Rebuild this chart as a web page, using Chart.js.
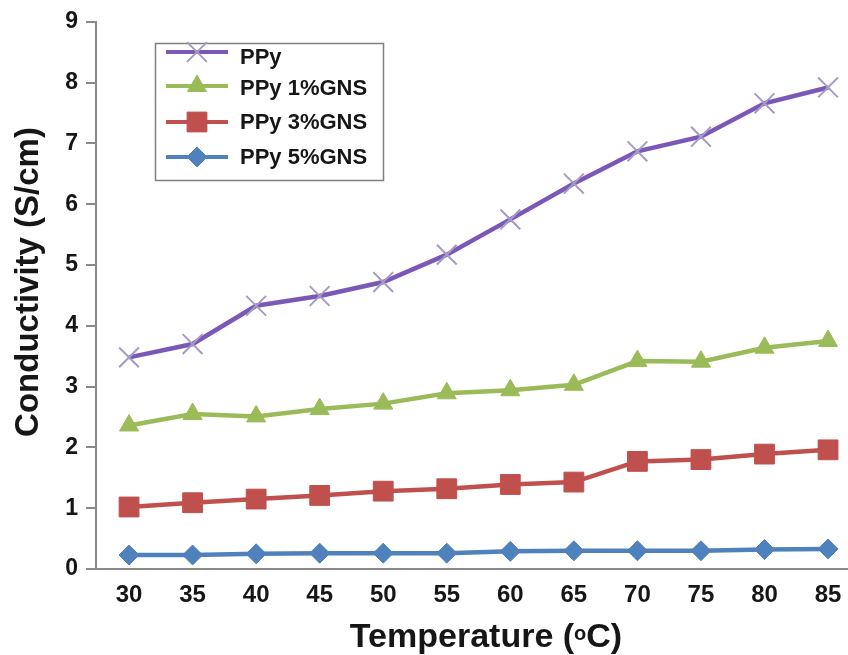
<!DOCTYPE html>
<html>
<head>
<meta charset="utf-8">
<title>Conductivity vs Temperature</title>
<script src="https://cdn.jsdelivr.net/npm/chart.js@4.4.1/dist/chart.umd.min.js"></script>
<style>
  html, body { margin: 0; padding: 0; background: #fff; }
  #wrap { width: 848px; height: 655px; }
</style>
</head>
<body>
<div id="wrap"><canvas id="condChart" width="848" height="655"></canvas></div>
<script>
'use strict';

// ── Data ──────────────────────────────────────────────────────
const temperatures = [30, 35, 40, 45, 50, 55, 60, 65, 70, 75, 80, 85];
const yTicks       = [0, 1, 2, 3, 4, 5, 6, 7, 8, 9];

const ppy      = [3.48, 3.70, 4.33, 4.49, 4.72, 5.17, 5.75, 6.34, 6.87, 7.11, 7.66, 7.92];
const ppy1GNS  = [2.36, 2.55, 2.51, 2.63, 2.72, 2.89, 2.94, 3.03, 3.42, 3.41, 3.64, 3.75];
const ppy3GNS  = [1.02, 1.09, 1.15, 1.21, 1.28, 1.32, 1.39, 1.43, 1.77, 1.80, 1.89, 1.96];
const ppy5GNS  = [0.23, 0.23, 0.25, 0.26, 0.26, 0.26, 0.29, 0.30, 0.30, 0.30, 0.32, 0.33];

const seriesNames = ['PPy', 'PPy 1%GNS', 'PPy 3%GNS', 'PPy 5%GNS'];

// ── Helpers ───────────────────────────────────────────────────
const FONT = "'Liberation Sans', Arial, sans-serif";
const AXIS_GREY = '#8a8a8a';
const INK = '#161616';

function toPoints(values) {
  return values.map((v, i) => ({ x: temperatures[i], y: v }));
}

function lineSet(label, values, color, style, radius, markColor, markWidth) {
  return {
    label,
    data: toPoints(values),
    borderColor: color,
    backgroundColor: color,
    borderWidth: 4.5,
    tension: 0,
    pointStyle: style,
    pointRadius: radius,
    pointHoverRadius: radius,
    pointBackgroundColor: markColor || color,
    pointBorderColor: markColor || color,
    pointBorderWidth: markWidth || 1,
  };
}

// ── Legend + axis titles drawn on the canvas ──────────────────
const annotations = {
  id: 'annotations',
  afterDraw(chart) {
    const ctx = chart.ctx;
    ctx.save();

    // legend box
    ctx.strokeStyle = '#808080';
    ctx.lineWidth = 1.5;
    ctx.strokeRect(155.5, 43.5, 228, 137);

    const lineY = [52, 86, 122, 157];
    const textY = [58, 89, 123, 158];
    chart.data.datasets.forEach((ds, i) => {
      const y = lineY[i];
      ctx.strokeStyle = ds.borderColor;
      ctx.lineWidth = 4;
      ctx.beginPath();
      ctx.moveTo(166, y);
      ctx.lineTo(228, y);
      ctx.stroke();

      ctx.fillStyle = ds.pointBackgroundColor;
      ctx.strokeStyle = ds.pointBorderColor;
      ctx.lineWidth = ds.pointBorderWidth;
      Chart.helpers.drawPoint(ctx, {
        pointStyle: ds.pointStyle,
        radius: ds.pointRadius,
        rotation: 0,
        borderWidth: ds.pointBorderWidth,
      }, 197, y);

      ctx.fillStyle = INK;
      ctx.font = 'bold 22px ' + FONT;
      ctx.textAlign = 'left';
      ctx.textBaseline = 'middle';
      ctx.fillText(seriesNames[i], 240, textY[i]);
    });

    // y-axis title
    ctx.save();
    ctx.translate(29, 282);
    ctx.rotate(-Math.PI / 2);
    ctx.font = 'bold 33px ' + FONT;
    ctx.textAlign = 'center';
    ctx.textBaseline = 'middle';
    ctx.fillStyle = INK;
    ctx.fillText('Conductivity (S/cm)', 0, 0);
    ctx.restore();

    // x-axis title with raised "o"
    const big = 'bold 34px ' + FONT;
    const small = 'bold 20px ' + FONT;
    const partA = 'Temperature (', partB = 'o', partC = 'C)';
    ctx.font = big;
    const wA = ctx.measureText(partA).width;
    const wC = ctx.measureText(partC).width;
    ctx.font = small;
    const wB = ctx.measureText(partB).width;
    let x = 486 - (wA + wB + wC) / 2;
    const base = 647;
    ctx.textAlign = 'left';
    ctx.textBaseline = 'alphabetic';
    ctx.fillStyle = INK;
    ctx.font = big;   ctx.fillText(partA, x, base); x += wA;
    ctx.font = small; ctx.fillText(partB, x, base - 7); x += wB;
    ctx.font = big;   ctx.fillText(partC, x, base);

    ctx.restore();
  },
};

// ── Chart ─────────────────────────────────────────────────────
const ctx = document.getElementById('condChart').getContext('2d');

new Chart(ctx, {
  type: 'line',
  data: {
    datasets: [
      lineSet(seriesNames[0], ppy,     '#7b58b8', 'crossRot', 14, '#a59bc4', 2),
      lineSet(seriesNames[1], ppy1GNS, '#9bbb59', 'triangle', 11),
      lineSet(seriesNames[2], ppy3GNS, '#c0504d', 'rect',     14),
      lineSet(seriesNames[3], ppy5GNS, '#4f81bd', 'rectRot',  10),
    ],
  },
  options: {
    responsive: false,
    animation: false,
    layout: { autoPadding: false, padding: { top: 20, right: 0, bottom: 0, left: 0 } },
    plugins: {
      legend:  { display: false },
      tooltip: { enabled: false },
    },
    scales: {
      x: {
        type: 'linear',
        min: 27.4,
        max: 86.57,
        afterBuildTicks(scale) { scale.ticks = temperatures.map(v => ({ value: v })); },
        afterFit(scale) {
          scale.height = 86;
          scale.paddingLeft = 0;
          scale.paddingRight = 0;
        },
        grid:   { display: false, drawTicks: false },
        border: { display: true, color: AXIS_GREY, width: 2 },
        ticks:  {
          color: INK,
          padding: 12,
          maxRotation: 0,
          autoSkip: false,
          font: { family: FONT, size: 24, weight: 'bold' },
        },
      },
      y: {
        min: 0,
        max: 9,
        afterBuildTicks(scale) { scale.ticks = yTicks.map(v => ({ value: v })); },
        afterFit(scale) { scale.width = 96; },
        grid: {
          drawOnChartArea: false,
          drawTicks: true,
          tickLength: 10,
          color: AXIS_GREY,
          lineWidth: 2,
        },
        border: { display: true, color: AXIS_GREY, width: 2 },
        ticks: {
          color: INK,
          padding: 8,
          font: { family: FONT, size: 23, weight: 'bold' },
        },
      },
    },
  },
  plugins: [annotations],
});
</script>
</body>
</html>
